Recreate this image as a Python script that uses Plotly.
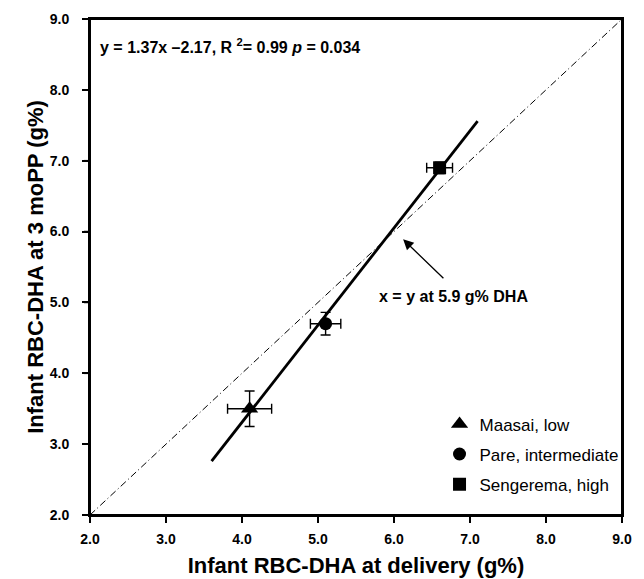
import plotly.graph_objects as go

# Data
groups = ["Maasai, low", "Pare, intermediate", "Sengerema, high"]
symbols = ["triangle-up", "circle", "square"]
marker_sizes = [15, 13, 13]
x_delivery = [4.1, 5.1, 6.6]
x_err = [0.29, 0.2, 0.17]
y_3mo = [3.5, 4.7, 6.9]
y_err = [0.25, 0.16, 0.08]

fit_x = [3.6, 7.1]
fit_y = [2.76, 7.56]
ident_x = [2.0, 9.0]
ident_y = [2.0, 9.0]

tick_vals = [2, 3, 4, 5, 6, 7, 8, 9]
tick_text = ["2.0", "3.0", "4.0", "5.0", "6.0", "7.0", "8.0", "9.0"]
axis_range = [2, 9]

FONT = "Liberation Sans, Arial, Helvetica, sans-serif"
W, H = 636, 571
M = dict(l=82, r=22, t=11, b=64)
PLOT_W = W - M["l"] - M["r"]
PLOT_H = H - M["t"] - M["b"]
TICKLEN = 6

fig = go.Figure()

fig.add_trace(go.Scatter(x=ident_x, y=ident_y, mode="lines",
                         line=dict(color="black", width=1, dash="7px,3px,1px,3px"),
                         showlegend=False, hoverinfo="skip"))
fig.add_trace(go.Scatter(x=fit_x, y=fit_y, mode="lines",
                         line=dict(color="black", width=2.8),
                         showlegend=False, hoverinfo="skip"))

for i, g in enumerate(groups):
    fig.add_trace(go.Scatter(
        x=[x_delivery[i]], y=[y_3mo[i]], mode="markers", name=g,
        legendgroup=g,
        marker=dict(symbol=symbols[i], size=marker_sizes[i], color="black"),
        error_x=dict(type="data", array=[x_err[i]], color="black", thickness=1.4, width=5),
        error_y=dict(type="data", array=[y_err[i]], color="black", thickness=1.4, width=5),
    ))

fig.add_annotation(x=0.0, y=1.0, xref="paper", yref="paper", xanchor="left", yanchor="middle",
                   xshift=8, yshift=-27,
                   text="<b>y = 1.37x \u20132.17, R <sup>2</sup>= 0.99 <i>p</i> = 0.034</b>",
                   showarrow=False, font=dict(family=FONT, size=16, color="black"))

fig.add_annotation(x=6.12, y=5.89, ax=6.67, ay=5.32, xref="x", yref="y", axref="x", ayref="y",
                   showarrow=True, arrowhead=2, arrowsize=1.6, arrowwidth=1.3, arrowcolor="black",
                   text="")
fig.add_annotation(x=6.78, y=5.08, xref="x", yref="y",
                   text="<b>x = y at 5.9 g% DHA</b>", showarrow=False,
                   font=dict(family=FONT, size=16, color="black"))

# plot frame
fig.add_shape(type="rect", xref="paper", yref="paper", x0=0, y0=0, x1=1, y1=1,
              line=dict(color="black", width=2), layer="above")
# outside tick marks (paper coordinates so they are not clipped)
span = axis_range[1] - axis_range[0]
for v in tick_vals:
    p = (v - axis_range[0]) / span
    fig.add_shape(type="line", xref="paper", yref="paper", x0=p, x1=p,
                  y0=0, y1=-TICKLEN / PLOT_H, line=dict(color="black", width=1.6))
    fig.add_shape(type="line", xref="paper", yref="paper", y0=p, y1=p,
                  x0=0, x1=-TICKLEN / PLOT_W, line=dict(color="black", width=1.6))

def make_axis(title, standoff, label_standoff):
    return dict(
        range=axis_range, automargin=False,
        tickmode="array", tickvals=tick_vals,
        ticktext=["<b>" + t + "</b>" for t in tick_text],
        ticks="outside", ticklen=TICKLEN, tickwidth=1.6, tickcolor="black",
        ticklabelstandoff=label_standoff,
        showline=True, linecolor="black", linewidth=2, mirror=True,
        showgrid=False, zeroline=False,
        tickfont=dict(family=FONT, size=14, color="black"),
        title=dict(text="<b>" + title + "</b>",
                   font=dict(family=FONT, size=22, color="black"), standoff=standoff),
    )

fig.update_layout(
    width=W, height=H,
    margin=M,
    paper_bgcolor="white", plot_bgcolor="white",
    font=dict(family=FONT, color="black"),
    xaxis=make_axis("Infant RBC-DHA at delivery (g%)", 12, 4),
    yaxis=make_axis("Infant RBC-DHA at 3 moPP (g%)", 0, 10),
    legend=dict(x=0.657, y=0.219, xanchor="left", yanchor="top",
                font=dict(family=FONT, size=17, color="black"),
                bgcolor="rgba(0,0,0,0)", tracegroupgap=5, itemwidth=30),
)

fig.write_html("out.html")
